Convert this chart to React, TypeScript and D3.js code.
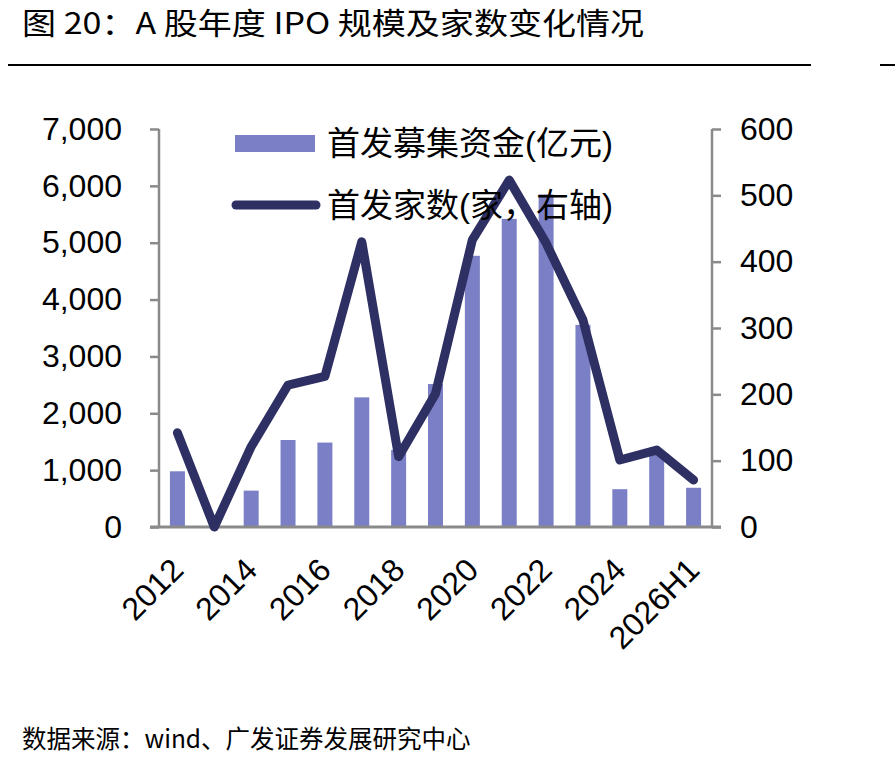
import React, { useEffect, useRef } from 'react';
import * as d3 from 'd3';

// IPO years (2026 is first half only)
const years = ['2012', '2013', '2014', '2015', '2016', '2017', '2018', '2019', '2020', '2021', '2022', '2023', '2024', '2025', '2026H1'];
// capital raised, 100m yuan (left axis)
const raised = [980, 0, 640, 1530, 1485, 2280, 1355, 2515, 4770, 5420, 5850, 3555, 665, 1265, 690];
// number of listings (right axis)
const counts = [142, 0, 121, 214, 227, 430, 106, 201, 433, 523, 428, 312, 101, 116, 71];

const leftTicks = [0, 1000, 2000, 3000, 4000, 5000, 6000, 7000];
const rightTicks = [0, 100, 200, 300, 400, 500, 600];
const xTickLabels = ['2012', '2014', '2016', '2018', '2020', '2022', '2024', '2026H1'];

const barColor = '#7b80c6';
const lineColor = '#2e2f62';
const axisColor = '#8a8a8a';
const numFont = '"Liberation Sans", Arial, "Noto Sans CJK SC", sans-serif';

const App = () => {
  const svgRef = useRef<SVGSVGElement>(null);

  useEffect(() => {
    const svg = d3.select(svgRef.current);
    svg.selectAll('*').remove();

    const plot = { left: 159, right: 712, top: 129, bottom: 527 };

    const x = d3.scaleBand<string>().domain(years).range([plot.left, plot.right]).padding(0);
    const yL = d3.scaleLinear().domain([0, 7000]).range([plot.bottom, plot.top]);
    const yR = d3.scaleLinear().domain([0, 600]).range([plot.bottom, plot.top]);
    const cx = (yr: string) => (x(yr) as number) + x.bandwidth() / 2;

    // title and rule
    svg.append('text')
      .attr('x', 22).attr('y', 34)
      .attr('font-family', '"Noto Sans CJK SC", sans-serif')
      .attr('font-size', 30)
      .attr('font-weight', 400)
      .attr('textLength', 622)
      .attr('lengthAdjust', 'spacingAndGlyphs')
      .attr('fill', '#000')
      .text('图 20：A 股年度 IPO 规模及家数变化情况');

    svg.append('line').attr('x1', 8).attr('x2', 811).attr('y1', 65).attr('y2', 65)
      .attr('stroke', '#000').attr('stroke-width', 2);
    svg.append('line').attr('x1', 880).attr('x2', 895).attr('y1', 65).attr('y2', 65)
      .attr('stroke', '#000').attr('stroke-width', 2);

    // bars
    const barW = 15;
    svg.append('g').selectAll('rect')
      .data(years.map((yr, i) => ({ yr, v: raised[i] })))
      .enter().append('rect')
      .attr('x', d => cx(d.yr) - barW / 2)
      .attr('y', d => yL(d.v))
      .attr('width', barW)
      .attr('height', d => plot.bottom - yL(d.v))
      .attr('fill', barColor);

    // axes
    const styleAxis = (g: d3.Selection<SVGGElement, unknown, null, undefined>) => {
      g.select('.domain').remove();
      g.selectAll('line').attr('stroke', axisColor).attr('stroke-width', 2.5);
      g.selectAll('text').attr('fill', '#000').attr('font-family', numFont).attr('font-size', 32);
    };

    const gl = svg.append('g').attr('transform', `translate(${plot.left},0)`)
      .call(d3.axisLeft(yL).tickValues(leftTicks).tickSize(9).tickPadding(28).tickFormat(d3.format(',')));
    styleAxis(gl);

    const gr = svg.append('g').attr('transform', `translate(${plot.right},0)`)
      .call(d3.axisRight(yR).tickValues(rightTicks).tickSize(9).tickPadding(19).tickFormat(d3.format('d')));
    styleAxis(gr);

    // axis lines
    svg.append('line').attr('x1', plot.left).attr('x2', plot.left).attr('y1', plot.top).attr('y2', plot.bottom)
      .attr('stroke', axisColor).attr('stroke-width', 2.5);
    svg.append('line').attr('x1', plot.right).attr('x2', plot.right).attr('y1', plot.top).attr('y2', plot.bottom)
      .attr('stroke', axisColor).attr('stroke-width', 2.5);
    svg.append('line').attr('x1', plot.left - 9).attr('x2', plot.right + 9).attr('y1', plot.bottom).attr('y2', plot.bottom)
      .attr('stroke', axisColor).attr('stroke-width', 3);

    // rotated category labels
    svg.append('g').selectAll('text')
      .data(xTickLabels)
      .enter().append('text')
      .attr('transform', d => `translate(${cx(d) - 8},${plot.bottom + 29}) rotate(-45)`)
      .attr('text-anchor', 'end')
      .attr('dy', '0.7em')
      .attr('font-family', numFont)
      .attr('font-size', 32)
      .attr('fill', '#000')
      .text(d => d);

    // listings line
    const line = d3.line<number>()
      .x((_, i) => cx(years[i]))
      .y(d => yR(d));

    svg.append('path')
      .datum(counts)
      .attr('d', line)
      .attr('fill', 'none')
      .attr('stroke', lineColor)
      .attr('stroke-width', 9)
      .attr('stroke-linejoin', 'round')
      .attr('stroke-linecap', 'round');

    // legend
    svg.append('rect').attr('x', 235).attr('y', 135).attr('width', 80).attr('height', 17).attr('fill', barColor);
    svg.append('text').attr('x', 327).attr('y', 155)
      .attr('font-family', numFont).attr('font-size', 33).attr('fill', '#000')
      .text('首发募集资金(亿元)');
    svg.append('line').attr('x1', 236).attr('x2', 316).attr('y1', 205).attr('y2', 205)
      .attr('stroke', lineColor).attr('stroke-width', 9).attr('stroke-linecap', 'round');
    svg.append('text').attr('x', 327).attr('y', 217)
      .attr('font-family', numFont).attr('font-size', 33).attr('fill', '#000')
      .text('首发家数(家，右轴)');

    // source note
    svg.append('text').attr('x', 22).attr('y', 748)
      .attr('font-family', '"Noto Sans CJK SC", sans-serif').attr('font-size', 24.5).attr('fill', '#000')
      .text('数据来源：wind、广发证券发展研究中心');
  }, []);

  return (
    <div style={{ position: 'absolute', left: 0, top: 0 }}>
      <svg ref={svgRef} width={895} height={768} style={{ display: 'block', background: '#fff' }} />
    </div>
  );
};

export default App;
